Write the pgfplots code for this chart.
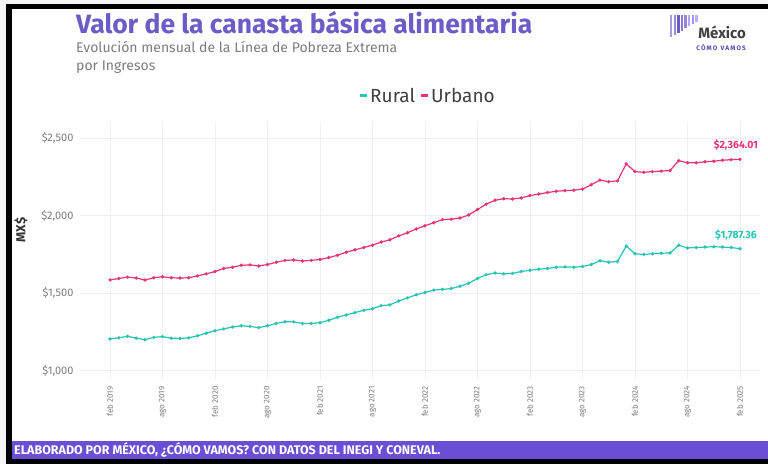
\documentclass[border=0pt]{standalone}
\usepackage{pgfplots}
\usepackage{pgfplotstable}
\pgfplotsset{compat=1.18}
\usepackage{fontspec}
\setmainfont{Fira Sans}

\definecolor{rural}{RGB}{38,196,178}
\definecolor{urbano}{RGB}{232,52,120}
\definecolor{titulo}{RGB}{108,92,200}
\definecolor{banda}{RGB}{106,78,214}
\definecolor{gristxt}{RGB}{125,125,125}

% mes (0 = feb 2019), rural, urbano
\pgfplotstableread{
idx rural urbano
0 1205 1586
1 1212 1595
2 1222 1604
3 1210 1598
4 1200 1585
5 1215 1600
6 1220 1606
7 1210 1600
8 1208 1598
9 1212 1600
10 1225 1612
11 1242 1625
12 1258 1640
13 1270 1660
14 1282 1668
15 1290 1680
16 1286 1683
17 1278 1676
18 1290 1685
19 1305 1700
20 1316 1712
21 1315 1715
22 1305 1708
23 1305 1712
24 1310 1718
25 1325 1730
26 1345 1745
27 1360 1765
28 1375 1780
29 1390 1795
30 1400 1810
31 1420 1830
32 1425 1845
33 1450 1870
34 1470 1890
35 1490 1915
36 1505 1935
37 1520 1955
38 1525 1975
39 1530 1978
40 1545 1985
41 1565 2005
42 1595 2040
43 1620 2075
44 1630 2100
45 1625 2110
46 1628 2108
47 1640 2115
48 1648 2130
49 1655 2140
50 1660 2150
51 1668 2158
52 1670 2162
53 1668 2165
54 1672 2172
55 1685 2200
56 1710 2230
57 1700 2220
58 1705 2225
59 1805 2335
60 1755 2285
61 1750 2280
62 1755 2285
63 1758 2288
64 1760 2292
65 1810 2355
66 1792 2342
67 1795 2342
68 1798 2348
69 1800 2352
70 1798 2358
71 1795 2362
72 1787.36 2364.01
}\datos

\begin{document}
\begin{tikzpicture}[x=1pt,y=1pt]
\useasboundingbox (0,0) rectangle (768,464);
% marco
\fill[gray!8] (0,0) rectangle (768,464);
\fill[black] (6,0) rectangle (768,460);
\fill[white] (12,5) rectangle (768,455);
\fill[banda] (12,5) rectangle (768,23);
\node[anchor=west, text=white, font=\fontsize{12.5}{13}\selectfont\bfseries, inner sep=0] at (14,14)
  {ELABORADO POR MÉXICO, ¿CÓMO VAMOS? CON DATOS DEL INEGI Y CONEVAL.};

% titulos
\node[anchor=base west, text=titulo, font=\fontsize{26.5}{28}\selectfont\bfseries, inner sep=0] at (76,430)
  {Valor de la canasta básica alimentaria};
\node[anchor=base west, text=gristxt, font=\fontsize{14}{15}\selectfont, inner sep=0] at (76,411)
  {Evolución mensual de la Línea de Pobreza Extrema};
\node[anchor=base west, text=gristxt, font=\fontsize{14}{15}\selectfont, inner sep=0] at (76,393)
  {por Ingresos};

% logo
\foreach \i/\h/\c in {0/22/titulo!60,1/20/titulo!70,2/18/titulo,3/16/titulo!80,4/13/banda!70,5/11/banda!50,6/9/blue!40,7/7/blue!30}
  \fill[\c] (670+3.6*\i,449) rectangle ++(2.4,-\h);
\node[anchor=base east, text=black!75, font=\fontsize{15}{16}\selectfont\bfseries, inner sep=0] at (746,425) {México};
\node[anchor=base east, text=blue!40!gray, font=\fontsize{6.5}{7}\selectfont\bfseries, inner sep=0] at (746,413)
  {C\,Ó\,M\,O\,\,\,V\,A\,M\,O\,S};

% eje y titulo
\node[rotate=90, text=black!80, font=\fontsize{13}{14}\selectfont\bfseries] at (21,234) {MX\$};

\begin{axis}[
  at={(80pt,84pt)}, anchor=south west,
  scale only axis, width=680pt, height=258pt,
  xmin=-3.43, xmax=74.29, ymin=940, ymax=2605,
  axis line style={draw=none},
  major tick length=0pt,
  xmajorgrids, ymajorgrids,
  grid style={gray!12, line width=0.6pt},
  xtick={0,6,...,72},
  xticklabels={feb 2019, ago 2019, feb 2020, ago 2020, feb 2021, ago 2021, feb 2022, ago 2022, feb 2023, ago 2023, feb 2024, ago 2024, feb 2025},
  x tick label style={rotate=90, anchor=east, font=\fontsize{8}{9}\selectfont, text=gristxt, xshift=-3pt},
  ytick={1000,1500,2000,2500},
  yticklabels={{\$1,000},{\$1,500},{\$2,000},{\$2,500}},
  y tick label style={font=\fontsize{11}{12}\selectfont, text=gristxt, xshift=-3pt},
  /pgf/number format/assume math mode=true,
  clip=false,
  legend style={at={(0.511,1)}, anchor=south, yshift=14pt, draw=none, fill=none,
    font=\fontsize{19}{21}\selectfont, text=black!75, legend columns=2,
    /tikz/every even column/.append style={column sep=2pt}},
  legend image code/.code={\draw[#1, line width=3pt] (0pt,0pt) -- (7pt,0pt);},
]
\addplot[rural, line width=1.2pt, mark=*, mark size=1pt] table[x=idx, y=rural] {\datos};
\addlegendentry{Rural}
\addplot[urbano, line width=1.2pt, mark=*, mark size=1pt] table[x=idx, y=urbano] {\datos};
\addlegendentry{Urbano}
\node[anchor=south, text=urbano, font=\fontsize{10.5}{12}\selectfont\bfseries, xshift=-4pt, yshift=5pt] at (axis cs:72,2364.01) {\$2,364.01};
\node[anchor=south, text=rural, font=\fontsize{10.5}{12}\selectfont\bfseries, xshift=-4pt, yshift=5pt] at (axis cs:72,1787.36) {\$1,787.36};
\end{axis}
\end{tikzpicture}
\end{document}
